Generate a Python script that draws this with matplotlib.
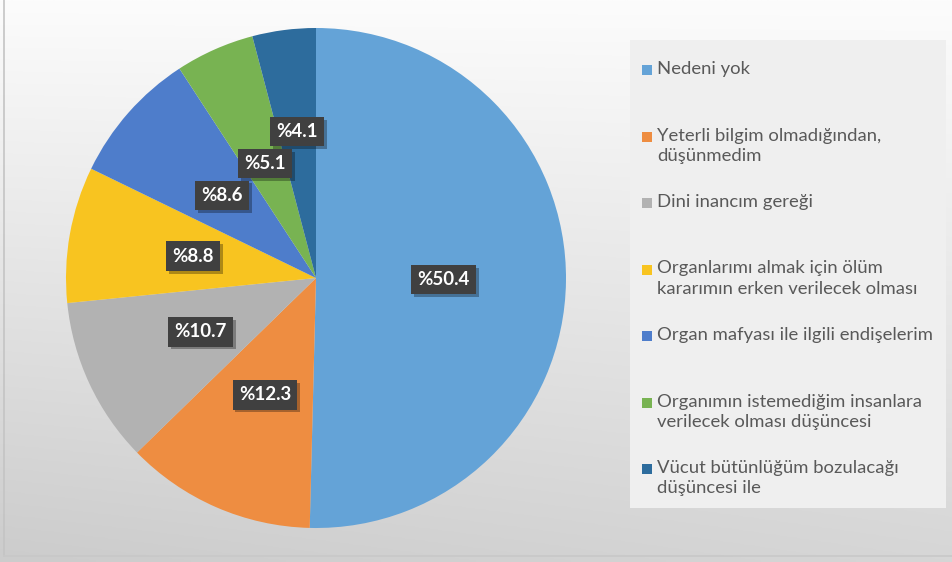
import numpy as np
import matplotlib
matplotlib.use("Agg")
import matplotlib.pyplot as plt
import matplotlib.patheffects as pe

plt.rcParams["font.family"] = ["Lato", "DejaVu Sans"]

reasons = [
    "Nedeni yok",
    "Yeterli bilgim olmadığından,\ndüşünmedim",
    "Dini inancım gereği",
    "Organlarımı almak için ölüm\nkararımın erken verilecek olması",
    "Organ mafyası ile ilgili endişelerim",
    "Organımın istemediğim insanlara\nverilecek olması düşüncesi",
    "Vücut bütünlüğüm bozulacağı\ndüşüncesi ile",
]
shares = [50.4, 12.3, 10.7, 8.8, 8.6, 5.1, 4.1]
colors = ["#64A3D7", "#EE8D41", "#B2B2B2", "#F8C420", "#4E7DCB", "#78B352", "#2D6C9D"]
label_r = [0.51, 0.51, 0.51, 0.5, 0.5, 0.5, 0.59]

W, H = 952, 562
fig = plt.figure(figsize=(W / 100, H / 100), dpi=100)

# background gradient (light top-right, grey bottom-left)
bg = fig.add_axes([0, 0, 1, 1])
yy, xx = np.mgrid[0:1:200j, 0:1:300j]
val = (252 - 38 * yy - 10 * (1 - xx) * yy) / 255
bg.imshow(np.dstack([val] * 3), extent=(0, W, H, 0), aspect="auto")
bg.set_xlim(0, W)
bg.set_ylim(H, 0)
bg.axis("off")
bg.plot([3.5, 3.5], [0, 556], color="#c4c4c4", lw=1.2)
bg.plot([3.5, W], [556, 556], color="#c8c8c8", lw=1.2)

# legend panel
bg.add_patch(plt.Rectangle((630, 40), 316, 468, facecolor="#efefef", edgecolor="none"))
y0, step = 70, 66.5
for i, (lab, c) in enumerate(zip(reasons, colors)):
    y = y0 + i * step
    bg.add_patch(plt.Rectangle((642, y - 5), 10, 10, facecolor=c, edgecolor="none"))
    bg.text(657, y - 9, lab, fontsize=13.3, color="#595959", va="top", ha="left",
            linespacing=1.33)

# pie
ax = fig.add_axes([66 / W, 34 / H, 500 / W, 500 / H])
wedges, _ = ax.pie(shares, colors=colors, startangle=90, counterclock=False,
                   radius=1, wedgeprops=dict(linewidth=0))
ax.set_xlim(-1, 1)
ax.set_ylim(-1, 1)
ax.set_aspect("equal")

for w, v, r in zip(wedges, shares, label_r):
    ang = np.deg2rad((w.theta1 + w.theta2) / 2)
    t = ax.text(r * np.cos(ang), r * np.sin(ang), f"%{v}", color="white",
                fontsize=13.5, fontweight="bold", ha="center", va="center",
                bbox=dict(boxstyle="square,pad=0.33", facecolor="#404040", edgecolor="none"))
    t.get_bbox_patch().set_path_effects([
        pe.SimplePatchShadow(offset=(2, -2), shadow_rgbFace="black", alpha=0.3),
        pe.Normal()])

fig.savefig("out.png", dpi=100)
